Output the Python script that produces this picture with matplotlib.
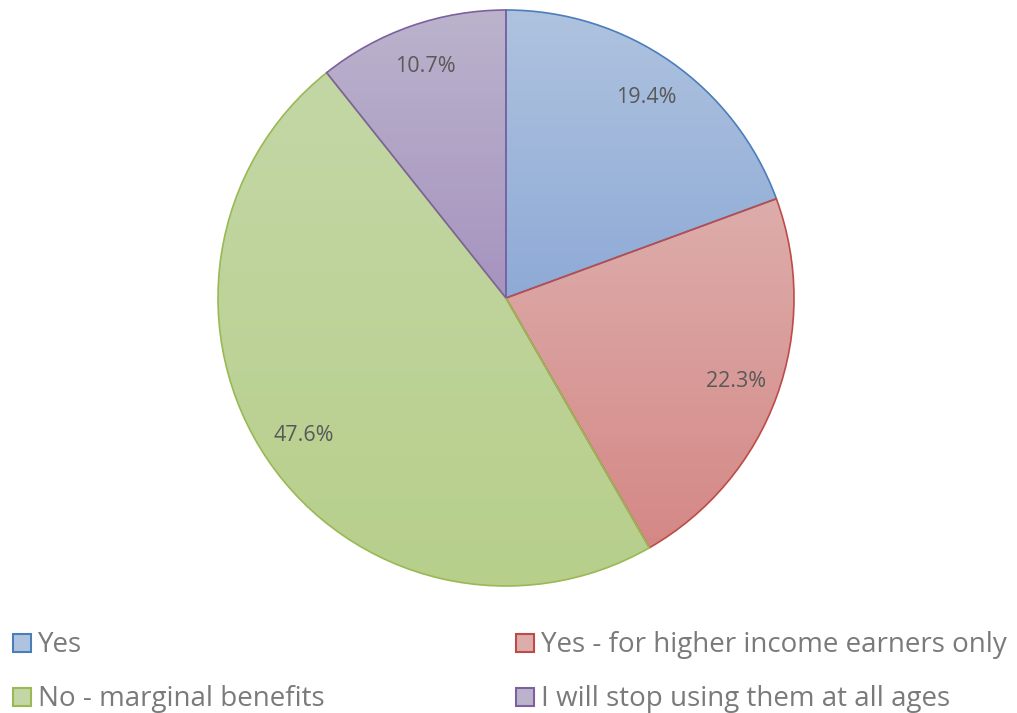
import numpy as np
import matplotlib
matplotlib.use("Agg")
import matplotlib.pyplot as plt
from matplotlib.colors import LinearSegmentedColormap
from matplotlib.patches import Rectangle

categories = ["Yes", "Yes - for higher income earners only",
              "No - marginal benefits", "I will stop using them at all ages"]
shares = [19.4, 22.3, 47.6, 10.7]
light_colors = ["#afc3df", "#ddadab", "#c3d7a6", "#bbb3cc"]
dark_colors = ["#8eaad6", "#d48886", "#b7cf8b", "#a693bf"]
edge_colors = ["#4a7ebb", "#be4b48", "#98b954", "#7d60a0"]

W, H = 1017, 713
fig = plt.figure(figsize=(W / 100, H / 100), dpi=100)
ax = fig.add_axes([0, 0, 1, 1])

cx, cy, r = 506, H - 298, 288
wedges, texts, autotexts = ax.pie(
    shares, center=(cx, cy), radius=r, startangle=90, counterclock=False,
    colors=light_colors, autopct="%.1f%%", pctdistance=0.85,
    wedgeprops=dict(linewidth=1.2),
    textprops=dict(color="#595959", fontsize=15.5, family="Open Sans"),
    frame=True)
ax.set_xlim(0, W)
ax.set_ylim(0, H)
ax.set_aspect("equal")
ax.axis("off")

# vertical gradient fill, clipped to each wedge
for w, lc, dc, ec in zip(wedges, light_colors, dark_colors, edge_colors):
    w.set_facecolor("none")
    w.set_edgecolor(ec)
    w.set_zorder(3)
    ext = w.get_path().get_extents()
    cmap = LinearSegmentedColormap.from_list("g", [dc, lc])
    grad = np.linspace(0, 1, 256).reshape(-1, 1)
    im = ax.imshow(grad, cmap=cmap, origin="lower", aspect="auto",
                   extent=[ext.x0, ext.x1, ext.y0, ext.y1], zorder=2,
                   interpolation="bilinear")
    im.set_clip_path(w)
for t in autotexts:
    t.set_zorder(5)

# legend in two columns
col_x = [13, 516]
row_y = [H - 643, H - 697]
for i, (lab, lc, ec) in enumerate(zip(categories, light_colors, edge_colors)):
    x = col_x[i % 2]
    y = row_y[i // 2]
    ax.add_patch(Rectangle((x, y - 9), 18, 18, facecolor=lc, edgecolor=ec,
                           linewidth=1.5, zorder=4))
    ax.text(x + 25, y - 2, lab, fontsize=20, family="Open Sans", color="#7a7a7a",
            va="center", ha="left")

fig.savefig("out.png", dpi=100)
